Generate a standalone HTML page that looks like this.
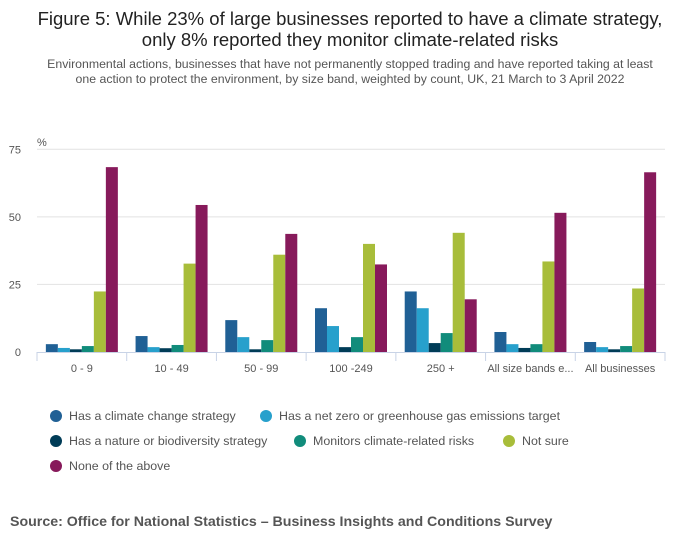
<!DOCTYPE html>
<html><head><meta charset="utf-8"><style>
body{margin:0;width:700px;height:549px;background:#fff;font-family:"Liberation Sans",sans-serif;overflow:hidden}
</style></head><body>
<svg width="700" height="549" font-family="Liberation Sans, sans-serif">
<text x="350" y="25" text-anchor="middle" font-size="18.5" fill="#222">Figure 5: While 23% of large businesses reported to have a climate strategy,</text>
<text x="350" y="46" text-anchor="middle" font-size="18.5" fill="#222">only 8% reported they monitor climate-related risks</text>
<text x="350" y="68" text-anchor="middle" font-size="12.3" fill="#555">Environmental actions, businesses that have not permanently stopped trading and have reported taking at least</text>
<text x="350" y="83" text-anchor="middle" font-size="12.3" fill="#555">one action to protect the environment, by size band, weighted by count, UK, 21 March to 3 April 2022</text>
<text x="37" y="146" font-size="11" fill="#555">%</text>
<g id="grid"></g><g id="bars"></g><g id="xaxis"></g><g id="legend"></g>
<text x="10" y="526" font-size="14.2" font-weight="bold" fill="#555">Source: Office for National Statistics – Business Insights and Conditions Survey</text>
</svg>
<script>
const categories=["0 - 9","10 - 49","50 - 99","100 -249","250 +","All size bands e...","All businesses"];
const seriesNames=["Has a climate change strategy","Has a net zero or greenhouse gas emissions target","Has a nature or biodiversity strategy","Monitors climate-related risks","Not sure","None of the above"];
const climateStrategy=[2.9,5.9,11.8,16.2,22.4,7.4,3.7];
const netZero=[1.5,1.8,5.5,9.6,16.2,2.9,1.8];
const nature=[1.0,1.4,1.0,1.8,3.3,1.5,1.0];
const monitors=[2.2,2.6,4.4,5.5,7.0,2.9,2.2];
const notSure=[22.4,32.7,36.0,40.0,44.1,33.5,23.5];
const none=[68.4,54.4,43.7,32.4,19.5,51.5,66.5];
const yTicks=[0,25,50,75];
const series=[climateStrategy,netZero,nature,monitors,notSure,none];
const colors=["#206095","#27a0cc","#003c57","#118c7b","#a8bd3a","#871a5b"];
const NS="http://www.w3.org/2000/svg";
const x0=37,x1=665,y0=352,yTop=149.3,yMax=75;
const y=v=>y0-(v/yMax)*(y0-yTop);
const gw=(x1-x0)/categories.length,bw=12;
function mk(t,a,p){const e=document.createElementNS(NS,t);for(const k in a)e.setAttribute(k,a[k]);p.appendChild(e);return e;}
const grid=document.getElementById('grid');
yTicks.forEach(t=>{
 if(t>0){const l=mk('line',{x1:x0,x2:x1,y1:y(t),y2:y(t),stroke:'#e2e2e2'},grid);
 
 }
 const tx=mk('text',{x:21,y:y(t)+4,'text-anchor':'end','font-size':11,fill:'#555'},grid);tx.textContent=t;
 
 
});
const bars=document.getElementById('bars');
categories.forEach((c,i)=>{
 const start=x0+i*gw+(gw-bw*6)/2;
 series.forEach((s,j)=>{
  const r=mk('rect',{x:start+j*bw,y:y(s[i]),width:bw,height:y0-y(s[i]),fill:colors[j]},bars);
  
  
 });
});
const xa=document.getElementById('xaxis');
const al=mk('line',{x1:x0,x2:x1,y1:y0+0.5,y2:y0+0.5,stroke:'#c8d3e6'},xa);


for(let i=0;i<=categories.length;i++){const tk=mk('line',{x1:x0+i*gw,x2:x0+i*gw,y1:y0,y2:y0+9,stroke:'#c8d3e6'},xa);
 
 }
categories.forEach((c,i)=>{const t=mk('text',{x:x0+i*gw+gw/2,y:372,'text-anchor':'middle','font-size':11,fill:'#555'},xa);t.textContent=c;
 
 });
const lg=document.getElementById('legend');
const pos=[[56,416],[266,416],[56,441],[300,441],[509,441],[56,466]];
seriesNames.forEach((n,j)=>{
 const g=mk('g',{},lg);
 
 
 mk('circle',{cx:pos[j][0],cy:pos[j][1],r:6,fill:colors[j]},g);
 const t=mk('text',{x:pos[j][0]+13,y:pos[j][1]+4,'font-size':12.4,fill:'#555'},g);t.textContent=n;
});
</script>
</body></html>
